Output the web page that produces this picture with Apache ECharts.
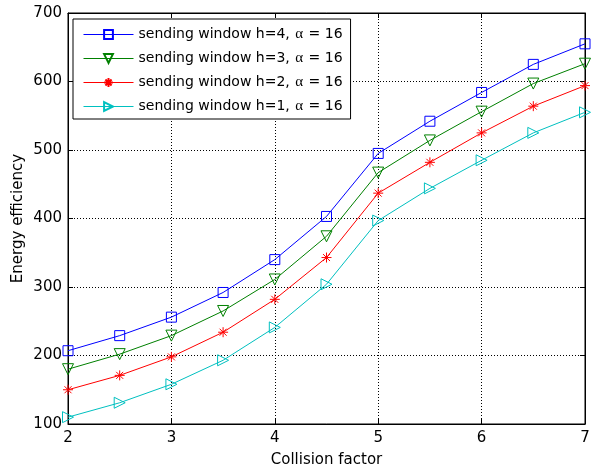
<!DOCTYPE html>
<html><head><meta charset="utf-8">
<script src="https://cdn.jsdelivr.net/npm/echarts@6/dist/echarts.min.js"></script>
<style>html,body{margin:0;padding:0;background:#fff}#c{width:598px;height:468px}</style>
</head><body><div id="c"></div>
<script>
const xValues = [2, 2.5, 3, 3.5, 4, 4.5, 5, 5.5, 6, 6.5, 7];
const h4 = [207, 229, 256, 292, 340, 403, 495, 542, 584, 625, 655];
const h3 = [180, 202, 229, 265, 311, 374, 467, 514, 556, 597, 626];
const h2 = [150, 171, 198, 234, 282, 343, 437, 482, 525, 564, 594];
const h1 = [110, 131, 158, 193, 241, 304, 397, 444, 485, 525, 555];
const seriesNames = ['sending window h=4, \u03b1 = 16','sending window h=3, \u03b1 = 16','sending window h=2, \u03b1 = 16','sending window h=1, \u03b1 = 16'];
const xTicks = [2,3,4,5,6,7];
const yTicks = [100,200,300,400,500,600,700];

const font = 'DejaVu Sans, Liberation Sans, sans-serif';
const star = 'path://M0,-10L0,10M-10,0L10,0M-7,-7L7,7M-7,7L7,-7';
function mk(name, data, color, symbol, rot, size){
  return {
    name, type:'line', data: xValues.map((x,i)=>[x,data[i]]),
    symbol, symbolRotate: rot, symbolSize: size, showAllSymbol:true,
    lineStyle:{color, width:1},
    itemStyle:{color:'rgba(255,255,255,0)', borderColor:color, borderWidth:1},
    emphasis:{disabled:true}, animation:false, z:3
  };
}
const chart = echarts.init(document.getElementById('c'));
const gridStyle = {show:true, lineStyle:{color:'#000', width:1, type:[1,2]}};
chart.setOption({
  animation:false,
  grid:{left:68, right:13, top:13, bottom:44, show:true, borderColor:'#000', borderWidth:1, backgroundColor:'#fff', outerBoundsMode:'none', containLabel:false},
  legend:{
    orient:'vertical', left:73, top:19, data: seriesNames,
    backgroundColor:'#fff', borderColor:'#000', borderWidth:1, borderRadius:0,
    padding:[8,8,5,10], itemWidth:50, itemHeight:11, itemGap:9,
    lineStyle:{width:1},
    formatter: n => n.replace('\u03b1', '{a|\u03b1}'),
    textStyle:{fontFamily:font, fontSize:14, color:'#000',
      rich:{a:{fontFamily:'Liberation Serif, DejaVu Serif, serif', fontSize:15, color:'#000', padding:[0,1,0,1]}}},
    selectedMode:false
  },
  xAxis:[{
    type:'value', min:2, max:7, interval:1, position:'bottom',
    name:'Collision factor', nameLocation:'middle', nameGap:29, nameMoveOverlap:false,
    nameTextStyle:{fontFamily:font, fontSize:15, color:'#000'},
    axisLine:{show:true, lineStyle:{color:'#000', width:1}},
    axisTick:{show:true, inside:true, length:5, lineStyle:{color:'#000'}},
    axisLabel:{fontFamily:font, fontSize:15, color:'#000', margin:7},
    splitLine:gridStyle
  },{
    type:'value', min:2, max:7, interval:1, position:'top',
    axisLine:{show:true, lineStyle:{color:'#000'}},
    axisTick:{show:true, inside:true, length:5, lineStyle:{color:'#000'}},
    axisLabel:{show:false}, splitLine:{show:false}
  }],
  yAxis:[{
    type:'value', min:100, max:700, interval:100, position:'left',
    name:'Energy efficiency', nameLocation:'middle', nameGap:42, nameRotate:90, nameMoveOverlap:false,
    nameTextStyle:{fontFamily:font, fontSize:15, color:'#000'},
    axisLine:{show:true, lineStyle:{color:'#000', width:1}},
    axisTick:{show:true, inside:true, length:5, lineStyle:{color:'#000'}},
    axisLabel:{fontFamily:font, fontSize:15, color:'#000', margin:6},
    splitLine:gridStyle
  },{
    type:'value', min:100, max:700, interval:100, position:'right',
    axisLine:{show:true, lineStyle:{color:'#000'}},
    axisTick:{show:true, inside:true, length:5, lineStyle:{color:'#000'}},
    axisLabel:{show:false}, splitLine:{show:false}
  }],
  series:[
    mk(seriesNames[0], h4, '#0000ff', 'rect', 0, 10),
    mk(seriesNames[1], h3, '#008000', 'triangle', 180, 11),
    mk(seriesNames[2], h2, '#ff0000', star, 0, 10),
    mk(seriesNames[3], h1, '#00c0c0', 'triangle', -90, 11)
  ]
});
</script></body></html>
